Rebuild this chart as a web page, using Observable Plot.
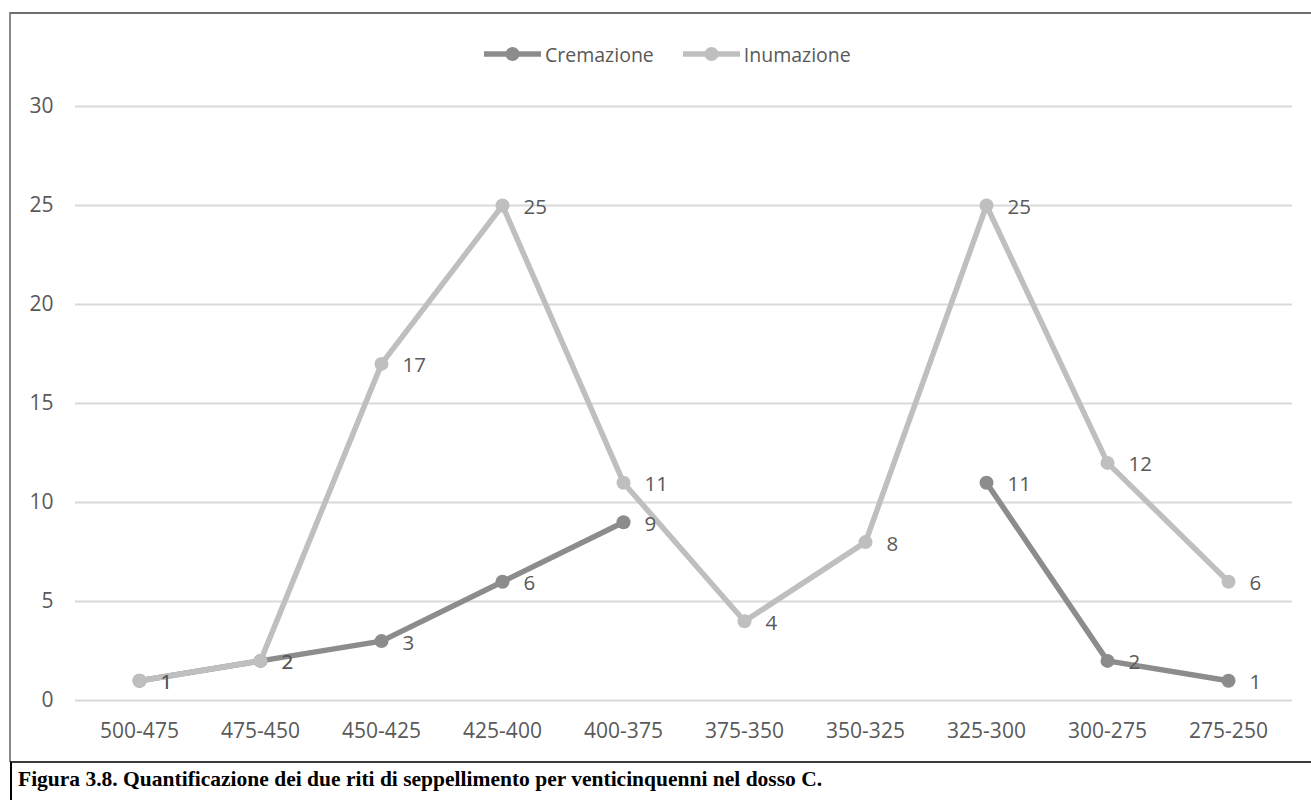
<!DOCTYPE html>
<html>
<head>
<meta charset="utf-8">
<script src="https://cdn.jsdelivr.net/npm/d3@7"></script>
<script src="https://cdn.jsdelivr.net/npm/@observablehq/plot@0.6"></script>
<style>
  html, body { margin: 0; padding: 0; background: #fff; }
  #wrap { position: relative; width: 1311px; height: 800px; overflow: hidden; background: #fff; }
  #frame { position: absolute; left: 9px; top: 12px; width: 1302px; height: 750px; box-sizing: border-box;
           border-top: 2px solid #6e6e6e; border-left: 2px solid #8a8a8a; }
  #chart { position: absolute; left: 0; top: 0; }
  #legend { position: absolute; left: 484px; top: 41px; height: 26px; display: flex; align-items: center; gap: 29px;
            font-family: 'Open Sans', sans-serif; font-size: 19.5px; color: #595959; }
  #legend .item { display: flex; align-items: center; }
  #legend .item span { margin-left: 4px; }
  #caption { position: absolute; left: 10px; top: 761px; width: 1301px; height: 39px; box-sizing: border-box;
             border-top: 2px solid #3a3a3a; border-left: 2px solid #000; }
  #caption div { position: absolute; left: 6px; top: 5px; line-height: 22px;
                 font-family: 'Liberation Serif', 'Times New Roman', serif; font-weight: bold; font-size: 21.5px; color: #000; white-space: nowrap; }
</style>
</head>
<body>
<div id="wrap">
  <div id="frame"></div>
  <div id="chart"></div>
  <div id="legend"></div>
  <div id="caption"><div id="captext"></div></div>
</div>
<script>
const categories = ["500-475", "475-450", "450-425", "425-400", "400-375", "375-350", "350-325", "325-300", "300-275", "275-250"];
const cremazione = [1, 2, 3, 6, 9, null, null, 11, 2, 1];
const inumazione = [1, 2, 17, 25, 11, 4, 8, 25, 12, 6];
const yTicks = [0, 5, 10, 15, 20, 25, 30];
const seriesNames = ["Cremazione", "Inumazione"];
const seriesColors = ["#8c8c8c", "#bfbfbf"];
const captionText = "Figura 3.8. Quantificazione dei due riti di seppellimento per venticinquenni nel dosso C.";

const cremData = categories.map((c, i) => ({cat: c, v: cremazione[i]}));
const inumData = categories.map((c, i) => ({cat: c, v: inumazione[i]}));
const defined = d => d.v != null;

const labelOpts = {x: "cat", y: "v", text: d => String(d.v), dx: 21, dy: 2, textAnchor: "start",
                   fill: "#595959", fontSize: 20.5};

const chart = Plot.plot({
  width: 1311,
  height: 761,
  marginLeft: 75,
  marginRight: 19,
  marginTop: 106,
  marginBottom: 61,
  x: {type: "point", domain: categories, padding: 0.5},
  y: {domain: [0, 30]},
  style: {fontFamily: "'Open Sans', sans-serif", fontSize: "21px", color: "#595959", background: "transparent", overflow: "visible"},
  marks: [
    Plot.ruleY(yTicks, {stroke: "#d9d9d9", strokeWidth: 2}),
    Plot.axisX({tickSize: 0, tickPadding: 23, fontSize: 21, label: null}),
    Plot.axisY({ticks: yTicks, tickSize: 0, tickPadding: 22, fontSize: 21, label: null}),
    Plot.line(cremData, {x: "cat", y: "v", stroke: seriesColors[0], strokeWidth: 5.5, strokeLinejoin: "round"}),
    Plot.dot(cremData.filter(defined), {x: "cat", y: "v", r: 7, fill: seriesColors[0], stroke: "none"}),
    Plot.line(inumData, {x: "cat", y: "v", stroke: seriesColors[1], strokeWidth: 5.5, strokeLinejoin: "round"}),
    Plot.dot(inumData, {x: "cat", y: "v", r: 7, fill: seriesColors[1], stroke: "none"}),
    Plot.text(cremData.filter(defined), labelOpts),
    Plot.text(inumData, labelOpts)
  ]
});
document.getElementById("chart").appendChild(chart);

const legend = document.getElementById("legend");
seriesNames.forEach((name, i) => {
  const item = document.createElement("div");
  item.className = "item";
  item.innerHTML = `<svg width="57" height="16"><line x1="0" y1="8" x2="57" y2="8" stroke="${seriesColors[i]}" stroke-width="5.5"/><circle cx="28.5" cy="8" r="7" fill="${seriesColors[i]}"/></svg><span>${name}</span>`;
  legend.appendChild(item);
});
document.getElementById("captext").textContent = captionText;
</script>
</body>
</html>
